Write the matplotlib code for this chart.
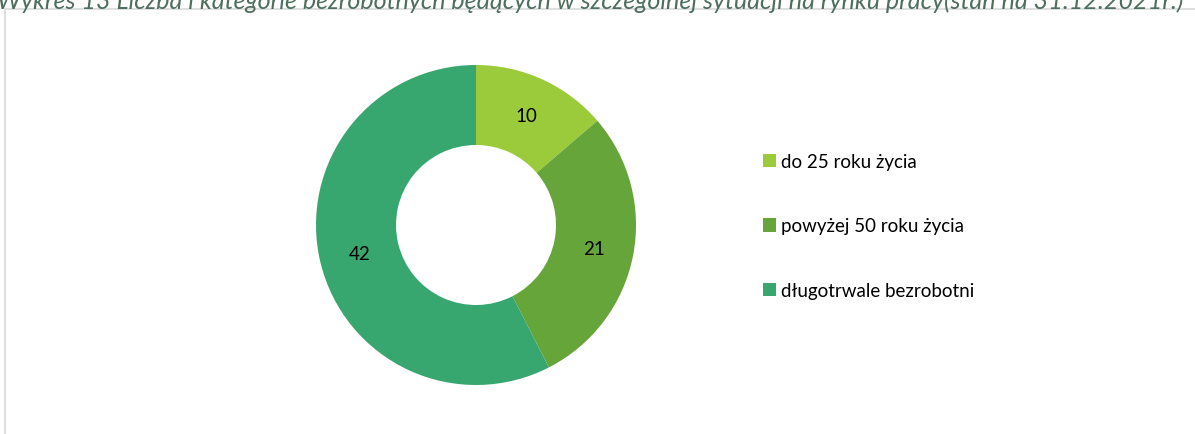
import matplotlib
matplotlib.use("Agg")
import matplotlib.pyplot as plt
from matplotlib.patches import Rectangle

categories = ["do 25 roku życia", "powyżej 50 roku życia", "długotrwale bezrobotni"]
values = [10, 21, 42]
colors = ["#9BCB3B", "#66A539", "#38A76F"]
title = "Wykres 13 Liczba i kategorie bezrobotnych będących w szczególnej sytuacji na rynku pracy(stan na 31.12.2021r.)"

plt.rcParams['font.family'] = ['Lato', 'DejaVu Sans']

W, H = 1195, 435
fig = plt.figure(figsize=(W / 100, H / 100), dpi=100)

# border frame
fig.patches.append(Rectangle((5 / W, -0.1), 1.2, (H - 10) / H + 0.1, transform=fig.transFigure,
                             fill=False, edgecolor="#D9D9D9", linewidth=1.2))

# title (partly clipped at top, as in the reference)
fig.text(-3 / W, (H - 1) / H, title, fontsize=18.1, style='italic', color="#4E6E5E",
         ha='left', va='center')

cx, cy, R = 476, 226, 160
ax = fig.add_axes([(cx - R) / W, (H - cy - R) / H, 2 * R / W, 2 * R / H])
wedges, texts = ax.pie(values, colors=colors, startangle=90, counterclock=False,
                       radius=1.0, wedgeprops=dict(width=0.5, linewidth=0),
                       labels=[str(v) for v in values], labeldistance=0.75,
                       textprops=dict(fontsize=13.5, color='black', ha='center', va='center'))
ax.set_xlim(-1, 1)
ax.set_ylim(-1, 1)
ax.set_aspect('equal')

leg = fig.legend(wedges, categories, loc='center left',
                 bbox_to_anchor=(755 / W, (H - 227) / H), frameon=False,
                 fontsize=13.5, handlelength=0.7, handleheight=0.7, handletextpad=0.3,
                 labelspacing=2.55, borderaxespad=0)
for p in leg.get_patches():
    p.set_edgecolor('none')

fig.savefig("out.png", dpi=100)
